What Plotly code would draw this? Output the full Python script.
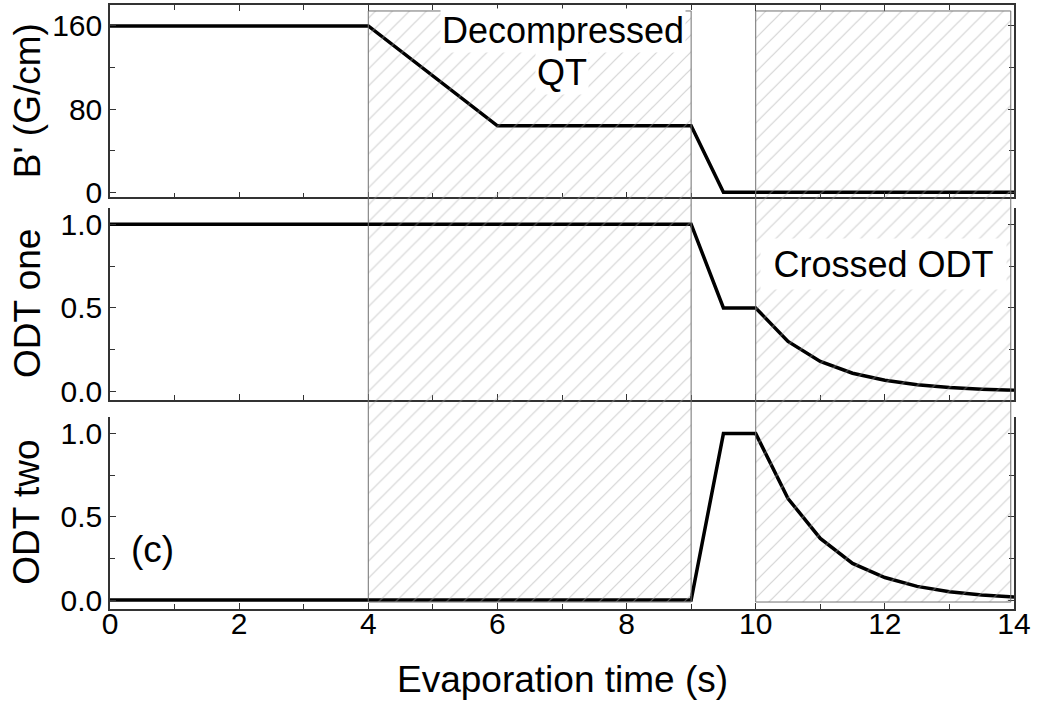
import plotly.graph_objects as go

# ---------------- data ----------------
time_bgrad = [0, 4, 6, 9, 9.5, 14]
bgrad = [160, 160, 64, 64, 0, 0]

time_odt = [0, 9, 9.5, 10, 10.5, 11, 11.5, 12, 12.5, 13, 13.5, 14]
odt_one = [1.0, 1.0, 0.5, 0.5, 0.30, 0.18, 0.11, 0.068, 0.041, 0.025, 0.015, 0.009]
odt_two = [0.0, 0.0, 1.0, 1.0, 0.61, 0.37, 0.22, 0.135, 0.082, 0.05, 0.03, 0.018]

hatch_start = [4, 10]
hatch_end = [9, 13.95]

x_ticks = [0, 2, 4, 6, 8, 10, 12, 14]
bgrad_ticks = [0, 80, 160]
odt_ticks = [0.0, 0.5, 1.0]

# ---------------- styling ----------------
FONT = "Liberation Sans, Arial, sans-serif"
AX_COLOR = "#333333"
TICK_SIZE = 30
TITLE_SIZE = 37
LABEL_SIZE = 36

W, H = 1037, 710
ML, MR, MT, MB = 110, 23, 3, 101
plot_h = H - MT - MB


def py2paper(py):
    return (H - MB - py) / plot_h


def px2paper(px):
    return (px - ML) / (W - ML - MR)


fig = go.Figure()

line_style = dict(color="black", width=3.5)
fig.add_trace(go.Scatter(x=time_bgrad, y=bgrad, mode="lines", line=line_style,
                         xaxis="x", yaxis="y", showlegend=False, hoverinfo="skip"))
fig.add_trace(go.Scatter(x=time_odt, y=odt_one, mode="lines", line=line_style,
                         xaxis="x2", yaxis="y2", showlegend=False, hoverinfo="skip"))
fig.add_trace(go.Scatter(x=time_odt, y=odt_two, mode="lines", line=line_style,
                         xaxis="x3", yaxis="y3", showlegend=False, hoverinfo="skip"))

# hatched regions spanning all three panels
hy0, hy1 = py2paper(602), py2paper(9)
for a, b in zip(hatch_start, hatch_end):
    fig.add_trace(go.Scatter(
        x=[a, b, b, a, a], y=[hy0, hy0, hy1, hy1, hy0],
        mode="lines", fill="toself", fillcolor="rgba(0,0,0,0)",
        fillpattern=dict(shape="/", size=12, solidity=0.1,
                         fgcolor="#a8a8a8", bgcolor="rgba(0,0,0,0)"),
        line=dict(color="#707070", width=1),
        xaxis="x4", yaxis="y4", showlegend=False, hoverinfo="skip"))

common_x = dict(range=[0, 14], tickvals=x_ticks, ticks="inside", ticklen=6,
                tickwidth=1.3, tickcolor=AX_COLOR, showline=True,
                linecolor=AX_COLOR, linewidth=1.5, showgrid=False, zeroline=False,
                minor=dict(dtick=1, ticks="inside", ticklen=5, tickcolor=AX_COLOR,
                           tickwidth=1.2, showgrid=False),
                tickfont=dict(family=FONT, size=TICK_SIZE, color="black"))
common_y = dict(ticks="inside", ticklen=6, tickwidth=1.3, tickcolor=AX_COLOR,
                showline=True, linecolor=AX_COLOR, linewidth=1.5, mirror="ticks",
                showgrid=False, zeroline=False,
                tickfont=dict(family=FONT, size=TICK_SIZE, color="black"))

d1 = [py2paper(196), 1.0]
d2 = [py2paper(399), py2paper(207)]
d3 = [0.0, py2paper(416)]

fig.update_layout(
    width=W, height=H,
    margin=dict(l=ML, r=MR, t=MT, b=MB),
    paper_bgcolor="white", plot_bgcolor="rgba(0,0,0,0)",
    showlegend=False,
    xaxis=dict(common_x, anchor="y", mirror="ticks", showticklabels=False),
    xaxis2=dict(common_x, anchor="y2", showticklabels=False),
    xaxis3=dict(common_x, anchor="y3", showticklabels=True, ticklabelstandoff=-13),
    xaxis4=dict(domain=[0, 1], range=[0, 14], visible=False, anchor="y4"),
    yaxis=dict(common_y, domain=d1, range=[-4.8, 180.1], tickvals=bgrad_ticks,
               minor=dict(dtick=40, ticks="inside", ticklen=5, tickcolor=AX_COLOR,
                          tickwidth=1.2, showgrid=False)),
    yaxis2=dict(common_y, domain=d2, range=[-0.048, 1.095], tickvals=odt_ticks,
                tickformat=".1f",
                minor=dict(dtick=0.25, ticks="inside", ticklen=5, tickcolor=AX_COLOR,
                           tickwidth=1.2, showgrid=False)),
    yaxis3=dict(common_y, domain=d3, range=[-0.054, 1.102], tickvals=odt_ticks,
                tickformat=".1f",
                minor=dict(dtick=0.25, ticks="inside", ticklen=5, tickcolor=AX_COLOR,
                           tickwidth=1.2, showgrid=False)),
    yaxis4=dict(domain=[0, 1], range=[0, 1], visible=False, anchor="x4"),
)

title_font = dict(family=FONT, size=TITLE_SIZE, color="black")
ytitle_x = px2paper(27)
for text, dom in [("B' (G/cm)", d1), ("ODT one", d2), ("ODT two", d3)]:
    fig.add_annotation(text=text, xref="paper", yref="paper", x=ytitle_x,
                       y=(dom[0] + dom[1]) / 2, textangle=-90, showarrow=False,
                       xanchor="center", yanchor="middle", font=title_font)

fig.add_annotation(text="Evaporation time (s)", xref="paper", yref="paper",
                   x=0.5, y=py2paper(680), showarrow=False, xanchor="center",
                   yanchor="middle", font=title_font)

label_font = dict(family=FONT, size=LABEL_SIZE, color="black")
fig.add_annotation(text="Decompressed", xref="x", yref="y", x=7.02, y=156,
                   showarrow=False, bgcolor="white", font=label_font, borderpad=1)
fig.add_annotation(text="QT", xref="x", yref="y", x=7.0, y=115,
                   showarrow=False, bgcolor="white", font=label_font, borderpad=1)
fig.add_annotation(text="Crossed ODT", xref="x2", yref="y2", x=11.98, y=0.765,
                   showarrow=False, bgcolor="white", font=label_font,
                   width=245, height=50, borderpad=0)
fig.add_annotation(text="(c)", xref="x3", yref="y3", x=0.66, y=0.305,
                   showarrow=False, font=dict(family=FONT, size=TITLE_SIZE, color="black"))

fig.write_html("out.html")
